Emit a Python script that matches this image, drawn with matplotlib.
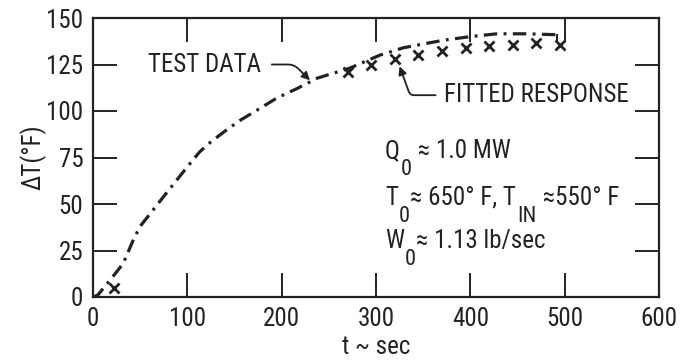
import matplotlib
matplotlib.use("Agg")
import matplotlib.pyplot as plt

# Condensed sans to mimic the old report typeface.
family = "Roboto Condensed"
plt.rcParams["font.family"] = [family, "DejaVu Sans"]

ink = "#222222"

# Test data (dash-dot curve)
test_t = [0, 5, 18, 32, 43, 50, 64, 78, 89, 100, 113, 124, 142, 156, 174,
          195, 216, 238, 272, 304, 329, 371, 400, 428, 460, 492]
test_dt = [0, 1, 9, 18, 31, 38, 47, 56, 63, 70, 78, 83, 90, 95, 100.5,
           107, 112, 117.7, 123, 130, 134, 138, 140, 141.5, 141.5, 141]

# Fitted response (crosses)
fit_t = [22, 270, 295, 320, 345, 370, 395, 420, 445, 470, 495]
fit_dt = [5, 121, 125, 128, 130, 132, 134, 135, 135.5, 136.5, 135.5]

xticks = [0, 100, 200, 300, 400, 500, 600]
yticks = [0, 25, 50, 75, 100, 125, 150]

# Operating conditions, as (text, is_subscript) pieces
cond_lines = [
    [("Q", False), ("0", True), (" ≈ 1.0 MW", False)],
    [("T", False), ("0", True), ("≈ 650° F, T", False), ("IN", True), (" ≈550° F", False)],
    [("W", False), ("0", True), ("≈ 1.13 lb/sec", False)],
]
cond_y = [74.7, 49.5, 26.3]


def rich_line(ax, x, y, parts, size=18, subsize=16, drop=-12):
    # chain pieces left to right, subscripts dropped below the baseline
    main = None
    prev = None
    for txt, sub in parts:
        if prev is None:
            a = ax.text(x, y, txt, fontsize=size, va="baseline", ha="left", color=ink)
            main = a
        elif sub:
            a = ax.annotate(txt, xy=(1, 0), xycoords=(prev, main), xytext=(0.5, drop),
                            textcoords="offset points", fontsize=subsize,
                            va="bottom", ha="left", color=ink)
        else:
            a = ax.annotate(txt, xy=(1, 0), xycoords=(prev, main), xytext=(0.5, 0),
                            textcoords="offset points", fontsize=size,
                            va="bottom", ha="left", color=ink)
            main = a
        prev = a


fig = plt.figure(figsize=(6.87, 3.60), dpi=100)
ax = fig.add_axes([93/687, 1-297/360, (659-93)/687, (297-18)/360])

ax.plot(test_t, test_dt, color=ink, lw=2.3, dashes=(4.2, 2, 0.9, 2))
ax.plot([492, 492], [141, 137.5], color=ink, lw=1.5)
ax.plot(fit_t, fit_dt, ls="none", marker="x", ms=6.5, mew=2, color=ink)

ax.set_xlim(0, 600)
ax.set_ylim(0, 150)
ax.set_xticks(xticks)
ax.set_yticks(yticks)
ax.tick_params(direction="in", length=17, width=1.4, labelsize=18, pad=7,
               top=True, right=True, colors=ink)
for s in ax.spines.values():
    s.set_linewidth(1.6)
    s.set_color(ink)

ax.set_xlabel("t ~ sec", fontsize=18, labelpad=3, color=ink)
ax.set_ylabel("ΔT(°F)", fontsize=18, labelpad=0, color=ink)

# Annotations
ax.annotate("TEST DATA", xy=(230, 116.5), xytext=(58, 125), fontsize=18,
            va="center", ha="left", color=ink,
            arrowprops=dict(arrowstyle="-|>", color=ink, lw=1.3,
                            shrinkA=6, shrinkB=0, mutation_scale=12,
                            connectionstyle="angle,angleA=0,angleB=-45,rad=6"))
ax.annotate("FITTED RESPONSE", xy=(325, 124), xytext=(372, 108.5), fontsize=18,
            va="center", ha="left", color=ink,
            arrowprops=dict(arrowstyle="-|>", color=ink, lw=1.3,
                            shrinkA=4, shrinkB=0, mutation_scale=12,
                            connectionstyle="angle,angleA=180,angleB=-70,rad=4"))

for parts, yy in zip(cond_lines, cond_y):
    rich_line(ax, 309.5, yy, parts)

fig.savefig("out.png", dpi=100)
